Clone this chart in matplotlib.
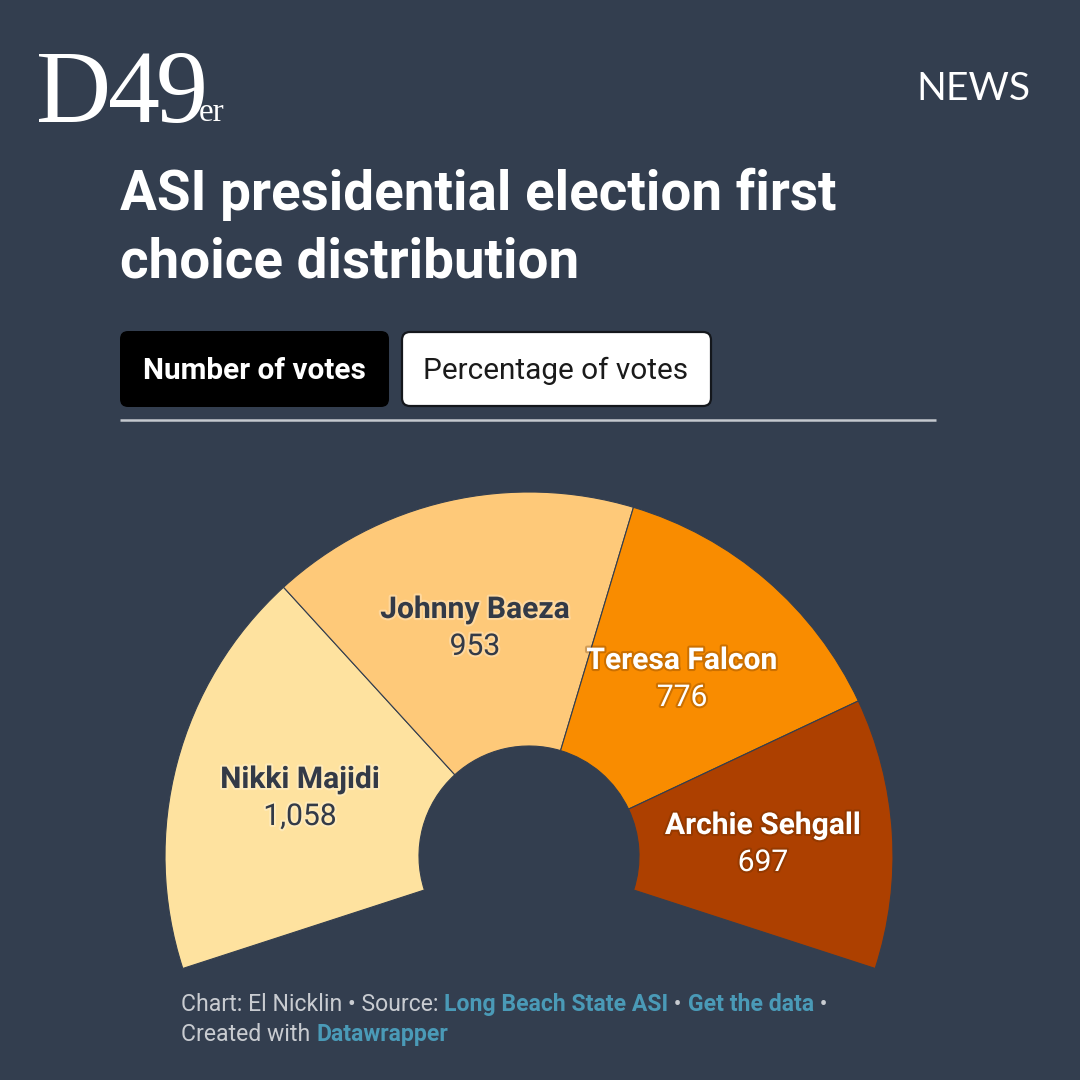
import matplotlib
matplotlib.use("Agg")
import matplotlib.pyplot as plt
import matplotlib.patheffects as pe
from matplotlib.patches import FancyBboxPatch

candidates = ["Nikki Majidi", "Johnny Baeza", "Teresa Falcon", "Archie Sehgall"]
votes = [1058, 953, 776, 697]
vote_labels = ["1,058", "953", "776", "697"]
colors = ["#FEE29F", "#FEC979", "#F98C00", "#AD4000"]
label_pos = [(300, 780), (475, 610), (682, 661), (763, 826)]
label_dark = [True, True, False, False]

BG = "#333E4F"
DARK = "#333A47"
LINK = "#4A9AB7"
GREY = "#C9CCD1"
ARC_SHARE = 216 / 360

fig = plt.figure(figsize=(10.8, 10.8), dpi=100, facecolor=BG)
ax = fig.add_axes([0, 0, 1, 1])
ax.set_facecolor(BG)


def Y(py):
    return 1080 - py


def PT(px):
    return px * 0.72


total = sum(votes)
ax.pie([v / total * ARC_SHARE for v in votes], normalize=False, colors=colors,
       startangle=198, counterclock=False, center=(529, Y(856)), radius=364,
       wedgeprops=dict(width=254, edgecolor=BG, linewidth=0.8))
ax.set_xlim(0, 1080)
ax.set_ylim(0, 1080)
ax.set_aspect("equal")
ax.axis("off")

# Logo
for ch, x in [("D", 36), ("4", 108), ("9", 156)]:
    ax.text(x, Y(122), ch, family="Liberation Serif", color="white",
            fontsize=PT(104), ha="left", va="baseline")
ax.text(199, Y(121), "er", family="Liberation Serif", color="white",
        fontsize=PT(33), ha="left", va="baseline")
ax.text(1030, Y(100), "NEWS", family="Lato", color="white", fontsize=PT(39),
        ha="right", va="baseline")

# Title
for line, py in [("ASI presidential election first", 210),
                 ("choice distribution", 278)]:
    ax.text(120, Y(py), line, family="Roboto", weight="bold", color="white",
            fontsize=PT(54.7), ha="left", va="baseline")

# Toggle buttons
ax.add_patch(FancyBboxPatch((126, Y(401)), 257, 64,
                            boxstyle="round,pad=6,rounding_size=8",
                            fc="black", ec="none"))
ax.add_patch(FancyBboxPatch((408, Y(400)), 297, 62,
                            boxstyle="round,pad=6,rounding_size=8",
                            fc="white", ec="#14171C", lw=1.6))
ax.text(254, Y(379), "Number of votes", family="Roboto", weight="bold",
        color="white", fontsize=PT(29.8), ha="center", va="baseline")
ax.text(556, Y(379), "Percentage of votes", family="Roboto", color="#1A1A1A",
        fontsize=PT(29.8), ha="center", va="baseline")
ax.plot([120, 936], [Y(420), Y(420)], color="#C4C8CE", lw=1.8,
        solid_capstyle="butt")

# Slice labels
for name, val, (x, py), dark in zip(candidates, vote_labels, label_pos, label_dark):
    tc = DARK if dark else "white"
    halo = "#FFFFFF" if dark else "#5A2A00"
    effects = [pe.withStroke(linewidth=3, foreground=halo, alpha=0.28)]
    ax.text(x, Y(py), name, family="Roboto", weight="bold", color=tc,
            fontsize=PT(30), ha="center", va="center", path_effects=effects)
    ax.text(x, Y(py + 37), val, family="Roboto", color=tc,
            fontsize=PT(30), ha="center", va="center", path_effects=effects)

# Footer
renderer = fig.canvas.get_renderer()


def run(parts, x, py):
    for s, col, bold in parts:
        t = ax.text(x, Y(py), s, family="Roboto",
                    weight="bold" if bold else "normal", color=col,
                    fontsize=PT(23), ha="left", va="baseline")
        x = t.get_window_extent(renderer).x1


run([("Chart: El Nicklin • Source: ", GREY, False),
     ("Long Beach State ASI", LINK, True),
     (" • ", GREY, False),
     ("Get the data", LINK, True),
     (" •", GREY, False)], 181, 1011)
run([("Created with ", GREY, False), ("Datawrapper", LINK, True)], 181, 1041)

fig.savefig("out.png", dpi=100, facecolor=BG)
